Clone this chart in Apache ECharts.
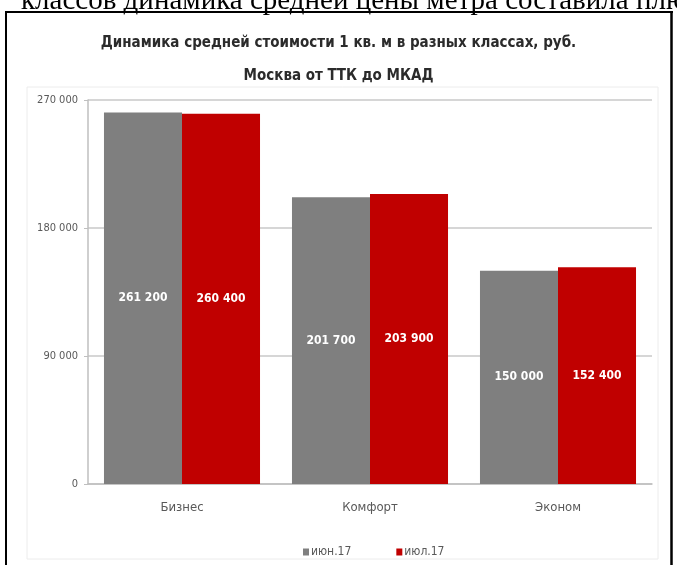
<!DOCTYPE html>
<html>
<head>
<meta charset="utf-8">
<script src="https://cdn.jsdelivr.net/npm/echarts@6/dist/echarts.min.js"></script>
<style>html,body{margin:0;padding:0;background:#fff;}#c{width:677px;height:565px;}</style>
</head>
<body>
<div id="c"></div>
<script>
const categories = ['Бизнес', 'Комфорт', 'Эконом'];
const seriesNames = ['июн.17', 'июл.17'];
const junValues = [261200, 201700, 150000];
const julValues = [260400, 203900, 152400];
const yTicks = [0, 90000, 180000, 270000];
const titleLines = ['Динамика средней стоимости 1 кв. м в разных классах, руб.', 'Москва от ТТК до МКАД'];
const pageText = 'классов динамика средней цены метра составила плюс';

const narrow = '"Liberation Sans Narrow", "DejaVu Sans Condensed", "Arial Narrow", sans-serif';
const fmt = v => String(v).replace(/\B(?=(\d{3})+(?!\d))/g, ' ');

const chart = echarts.init(document.getElementById('c'));
chart.setOption({
  animation: false,
  backgroundColor: '#fff',
  title: {
    text: titleLines.join('\n'),
    left: 'center',
    top: 22,
    textStyle: { fontFamily: narrow, fontSize: 15, fontWeight: 'bold', color: '#2b2b2b', lineHeight: 33 }
  },
  graphic: [
    { type: 'text', left: 21, top: -13, style: { text: pageText, font: '29px "Liberation Serif", "Times New Roman", serif', fill: '#000' } },
    { type: 'rect', shape: { x: 27, y: 87, width: 631, height: 472 }, style: { fill: 'none', stroke: '#ececec', lineWidth: 1 }, silent: true },
    { type: 'line', shape: { x1: 5, y1: 12, x2: 673, y2: 12 }, style: { stroke: '#000', lineWidth: 2 } },
    { type: 'line', shape: { x1: 6, y1: 11, x2: 6, y2: 565 }, style: { stroke: '#000', lineWidth: 2 } },
    { type: 'line', shape: { x1: 671.5, y1: 11, x2: 671.5, y2: 565 }, style: { stroke: '#000', lineWidth: 2.5 } }
  ],
  legend: {
    data: seriesNames,
    left: 298,
    top: 541,
    itemWidth: 6,
    itemHeight: 7,
    itemGap: 45,
    icon: 'rect',
    textStyle: { fontFamily: narrow, fontSize: 12, color: '#595959', padding: [0, 0, 0, -3] }
  },
  grid: { left: 88, right: 25, top: 100, bottom: 81 },
  xAxis: {
    type: 'category',
    data: categories,
    axisLine: { lineStyle: { color: '#bfbfbf', width: 1.5 } },
    axisTick: { show: false },
    axisLabel: { fontFamily: narrow, fontSize: 13, color: '#595959', margin: 17 }
  },
  yAxis: {
    type: 'value',
    min: yTicks[0],
    max: yTicks[yTicks.length - 1],
    interval: yTicks[1] - yTicks[0],
    axisLine: { show: true, lineStyle: { color: '#bfbfbf', width: 1.5 } },
    axisTick: { show: true, length: 4, lineStyle: { color: '#bfbfbf' } },
    splitLine: { lineStyle: { color: '#c8c8c8', width: 1.5 } },
    axisLabel: { fontFamily: narrow, fontSize: 11, color: '#595959', margin: 10, formatter: v => fmt(v) }
  },
  series: [
    {
      name: seriesNames[0], type: 'bar', data: junValues,
      barGap: '0%', barCategoryGap: '17%',
      itemStyle: { color: '#7f7f7f' },
      label: { show: true, position: 'inside', color: '#fff', fontFamily: narrow, fontSize: 12, fontWeight: 'bold', formatter: p => fmt(p.value) }
    },
    {
      name: seriesNames[1], type: 'bar', data: julValues,
      itemStyle: { color: '#c00000' },
      label: { show: true, position: 'inside', color: '#fff', fontFamily: narrow, fontSize: 12, fontWeight: 'bold', formatter: p => fmt(p.value) }
    }
  ]
});
</script>
</body>
</html>
